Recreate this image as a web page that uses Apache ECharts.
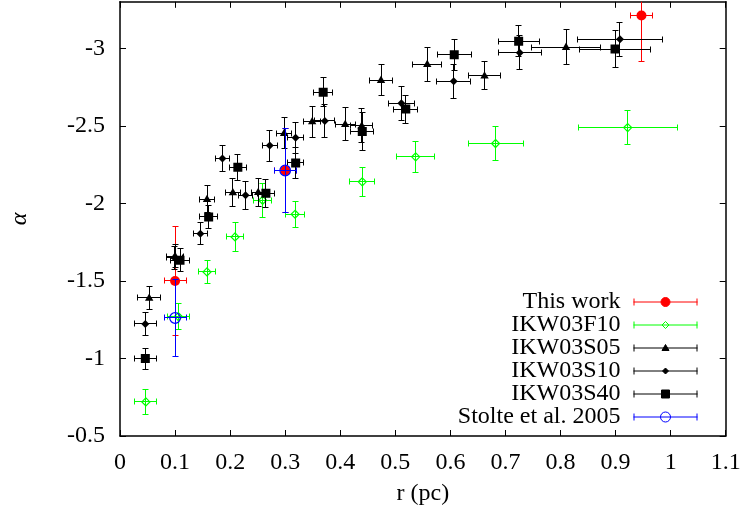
<!DOCTYPE html>
<html>
<head>
<meta charset="utf-8">
<script src="https://cdn.jsdelivr.net/npm/echarts@6/dist/echarts.min.js"></script>
<style>
  html, body { margin: 0; padding: 0; background: #fff; }
  #chart { width: 747px; height: 515px; }
</style>
</head>
<body>
<div id="chart"></div>
<script>
// Power-law slope alpha versus radius r (pc), with x/y error bars.

const seriesNames = ['This work', 'IKW03F10', 'IKW03S05', 'IKW03S10', 'IKW03S40', 'Stolte et al. 2005'];

const thisWorkR = [0.1, 0.3, 0.947];
const thisWorkAlpha = [-1.5, -2.212, -3.212];
const thisWorkRErr = [0.02, 0.02, 0.02];
const thisWorkAlphaErr = [0.35, 0.27, 0.3];

const f10R = [0.047, 0.106, 0.158, 0.209, 0.259, 0.318, 0.44, 0.537, 0.682, 0.922];
const f10Alpha = [-0.72, -1.27, -1.558, -1.784, -2.02, -1.93, -2.139, -2.30, -2.386, -2.489];
const f10RErr = [0.02, 0.02, 0.015, 0.016, 0.016, 0.017, 0.023, 0.035, 0.05, 0.09];
const f10AlphaErr = [0.08, 0.085, 0.075, 0.095, 0.11, 0.085, 0.093, 0.1, 0.11, 0.11];

const s05R = [0.053, 0.1, 0.158, 0.205, 0.251, 0.298, 0.349, 0.409, 0.439, 0.474, 0.558, 0.662, 0.81];
const s05Alpha = [-1.39, -1.66, -2.027, -2.07, -2.072, -2.453, -2.528, -2.511, -2.50, -2.795, -2.898, -2.823, -3.008];
const s05RErr = [0.021, 0.015, 0.013, 0.013, 0.013, 0.013, 0.016, 0.018, 0.02, 0.021, 0.026, 0.029, 0.063];
const s05AlphaErr = [0.075, 0.075, 0.086, 0.09, 0.09, 0.1, 0.1, 0.105, 0.11, 0.1, 0.11, 0.09, 0.115];

const s10R = [0.046, 0.099, 0.146, 0.186, 0.228, 0.272, 0.319, 0.372, 0.511, 0.606, 0.726, 0.908];
const s10Alpha = [-1.223, -1.65, -1.805, -2.29, -2.053, -2.373, -2.423, -2.532, -2.646, -2.788, -2.971, -3.059];
const s10RErr = [0.02, 0.015, 0.013, 0.012, 0.013, 0.014, 0.014, 0.018, 0.023, 0.031, 0.039, 0.078];
const s10AlphaErr = [0.073, 0.075, 0.072, 0.083, 0.09, 0.1, 0.1, 0.107, 0.11, 0.11, 0.11, 0.11];

const s40R = [0.046, 0.109, 0.161, 0.214, 0.265, 0.319, 0.369, 0.44, 0.519, 0.607, 0.724, 0.899];
const s40Alpha = [-0.999, -1.633, -1.913, -2.233, -2.066, -2.261, -2.717, -2.463, -2.608, -2.958, -3.046, -2.995];
const s40RErr = [0.02, 0.017, 0.016, 0.015, 0.016, 0.014, 0.017, 0.021, 0.022, 0.031, 0.037, 0.065];
const s40AlphaErr = [0.068, 0.075, 0.074, 0.083, 0.09, 0.1, 0.095, 0.12, 0.09, 0.1, 0.1, 0.12];

const stolteR = [0.1, 0.3];
const stolteAlpha = [-1.261, -2.212];
const stolteRErr = [0.02, 0.02];
const stolteAlphaErr = [0.25, 0.27];

const xTicks = [0, 0.1, 0.2, 0.3, 0.4, 0.5, 0.6, 0.7, 0.8, 0.9, 1, 1.1];
const yTicks = [-3, -2.5, -2, -1.5, -1, -0.5];

const FONT = '"Liberation Serif", "Times New Roman", serif';

function rows(xs, ys, xe, ye) {
  return xs.map((x, i) => [x, ys[i], xe[i], ye[i]]);
}

function px(v) { return Math.round(v - 0.5) + 0.5; }

function markerShape(kind, cx, cy, color) {
  switch (kind) {
    case 'filledCircle':
      return { type: 'circle', shape: { cx, cy, r: 5 }, style: { fill: color } };
    case 'openCircle':
      return { type: 'circle', shape: { cx, cy, r: 5.3 }, style: { fill: 'none', stroke: color, lineWidth: 1.2 } };
    case 'openDiamond':
      return { type: 'polygon', shape: { points: [[cx, cy - 4], [cx + 4, cy], [cx, cy + 4], [cx - 4, cy]] },
               style: { fill: 'none', stroke: color, lineWidth: 1.2 } };
    case 'triangle':
      return { type: 'polygon', shape: { points: [[cx, cy - 4.5], [cx + 4.2, cy + 2.8], [cx - 4.2, cy + 2.8]] },
               style: { fill: color } };
    case 'diamond':
      return { type: 'polygon', shape: { points: [[cx, cy - 4], [cx + 4, cy], [cx, cy + 4], [cx - 4, cy]] },
               style: { fill: color } };
    case 'square':
      return { type: 'rect', shape: { x: cx - 4.5, y: cy - 4.5, width: 9, height: 9 }, style: { fill: color } };
  }
}

function errorBarRenderer(kind, color) {
  return function (params, api) {
    const x = api.value(0), y = api.value(1), xe = api.value(2), ye = api.value(3);
    const c = api.coord([x, y]);
    const l = api.coord([x - xe, y]);
    const r = api.coord([x + xe, y]);
    const t = api.coord([x, y - ye]);
    const b = api.coord([x, y + ye]);
    const cx = px(c[0]), cy = px(c[1]);
    const cap = 3;
    const ls = { stroke: color, lineWidth: 1 };
    const line = (x1, y1, x2, y2) => ({ type: 'line', shape: { x1, y1, x2, y2 }, style: ls });
    const lx = px(l[0]), rx = px(r[0]), ty = px(t[1]), by = px(b[1]);
    return {
      type: 'group',
      children: [
        line(lx, cy, rx, cy),
        line(cx, ty, cx, by),
        line(lx, cy - cap, lx, cy + cap),
        line(rx, cy - cap, rx, cy + cap),
        line(cx - cap, ty, cx + cap, ty),
        line(cx - cap, by, cx + cap, by),
        markerShape(kind, c[0], c[1], color)
      ]
    };
  };
}

// Legend glyphs: an error bar with caps and the marker in its middle (64 x 12 box).
const barPath = 'M0 0M64 12M0 6L64 6M0.5 2.5L0.5 9.5M63.5 2.5L63.5 9.5';
const legendGlyphs = {
  filledCircle: barPath + 'M27.5 6A4.5 4.5 0 1 0 36.5 6A4.5 4.5 0 1 0 27.5 6Z',
  openDiamond: barPath + 'M32 2.5L35.5 6L32 9.5L28.5 6Z',
  triangle: barPath + 'M32 2.5L35.5 8.5L28.5 8.5Z',
  diamond: barPath + 'M32 3L35 6L32 9L29 6Z',
  square: barPath + 'M28 2L36 2L36 10L28 10Z',
  openCircle: barPath + 'M27 6A5 5 0 1 0 37 6A5 5 0 1 0 27 6Z'
};

const seriesDefs = [
  { name: seriesNames[0], kind: 'filledCircle', color: '#ff0000', filled: true, data: rows(thisWorkR, thisWorkAlpha, thisWorkRErr, thisWorkAlphaErr) },
  { name: seriesNames[1], kind: 'openDiamond', color: '#00ff00', filled: false, data: rows(f10R, f10Alpha, f10RErr, f10AlphaErr) },
  { name: seriesNames[2], kind: 'triangle', color: '#000000', filled: true, data: rows(s05R, s05Alpha, s05RErr, s05AlphaErr) },
  { name: seriesNames[3], kind: 'diamond', color: '#000000', filled: true, data: rows(s10R, s10Alpha, s10RErr, s10AlphaErr) },
  { name: seriesNames[4], kind: 'square', color: '#000000', filled: true, data: rows(s40R, s40Alpha, s40RErr, s40AlphaErr) },
  { name: seriesNames[5], kind: 'openCircle', color: '#0000ff', filled: false, data: rows(stolteR, stolteAlpha, stolteRErr, stolteAlphaErr) }
];

const axisLineStyle = { color: '#000', width: 1.5 };
const tickStyle = { color: '#000', width: 1 };

const option = {
  animation: false,
  backgroundColor: '#fff',
  grid: { left: 114.5, right: 21.3, top: 1.8, bottom: 79, containLabel: false },
  xAxis: [
    {
      type: 'value', position: 'bottom', min: 0, max: 1.1, interval: 0.1,
      axisLine: { show: true, onZero: false, lineStyle: axisLineStyle },
      axisTick: { show: true, inside: true, length: 6, lineStyle: tickStyle },
      axisLabel: { fontFamily: FONT, fontSize: 24, color: '#000', margin: 15,
                   customValues: xTicks, formatter: v => String(v) },
      splitLine: { show: false },
      name: 'r (pc)', nameLocation: 'middle', nameGap: 46,
      nameTextStyle: { fontFamily: FONT, fontSize: 24, color: '#000' }
    },
    {
      type: 'value', position: 'top', min: 0, max: 1.1, interval: 0.1,
      axisLine: { show: true, onZero: false, lineStyle: axisLineStyle },
      axisTick: { show: true, inside: true, length: 6, lineStyle: tickStyle },
      axisLabel: { show: false },
      splitLine: { show: false }
    }
  ],
  yAxis: [
    {
      type: 'value', position: 'left', min: -3.3, max: -0.5, inverse: true,
      axisLine: { show: true, onZero: false, lineStyle: axisLineStyle },
      axisTick: { show: true, inside: true, length: 6, lineStyle: tickStyle, customValues: yTicks },
      axisLabel: { fontFamily: FONT, fontSize: 24, color: '#000', margin: 15, customValues: yTicks },
      splitLine: { show: false },
      name: 'α', nameLocation: 'middle', nameGap: 88,
      nameTextStyle: { fontFamily: FONT, fontSize: 24, color: '#000', fontStyle: 'italic' }
    },
    {
      type: 'value', position: 'right', min: -3.3, max: -0.5, inverse: true,
      axisLine: { show: true, onZero: false, lineStyle: axisLineStyle },
      axisTick: { show: true, inside: true, length: 6, lineStyle: tickStyle, customValues: yTicks },
      axisLabel: { show: false },
      splitLine: { show: false }
    }
  ],
  legend: {
    orient: 'vertical',
    align: 'right',
    right: 47,
    top: 290,
    padding: 0,
    itemWidth: 64,
    itemHeight: 12,
    itemGap: -1,
    selectedMode: false,
    textStyle: { fontFamily: FONT, fontSize: 24, color: '#000', lineHeight: 23.4, padding: [0, 8, 0, 0] },
    data: seriesDefs.map(s => ({
      name: s.name,
      icon: 'path://' + legendGlyphs[s.kind],
      itemStyle: { color: s.filled ? s.color : 'none', borderColor: s.color, borderWidth: 1 }
    }))
  },
  series: seriesDefs.map(s => ({
    name: s.name,
    type: 'custom',
    xAxisIndex: 0,
    yAxisIndex: 0,
    clip: true,
    itemStyle: { color: s.color },
    encode: { x: 0, y: 1 },
    renderItem: errorBarRenderer(s.kind, s.color),
    data: s.data
  }))
};

const chart = echarts.init(document.getElementById('chart'), null, { renderer: 'canvas' });
chart.setOption(option);
</script>
</body>
</html>
